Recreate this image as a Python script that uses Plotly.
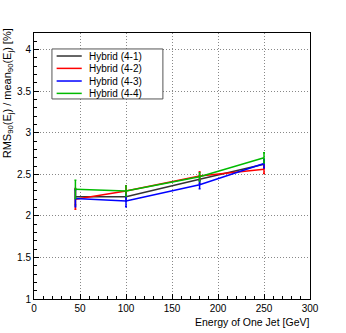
import plotly.graph_objects as go

# energies of one jet [GeV]
energy = [45, 100, 180, 250]

names = ["Hybrid (4-1)", "Hybrid (4-2)", "Hybrid (4-3)", "Hybrid (4-4)"]
colors = ["#333333", "#ff0000", "#0000ff", "#00bb00"]

# RMS90 / mean90 [%]
res_41 = [2.23, 2.23, 2.44, 2.62]
res_42 = [2.20, 2.30, 2.48, 2.56]
res_43 = [2.21, 2.18, 2.375, 2.63]
res_44 = [2.32, 2.30, 2.47, 2.70]

err_41 = [0.10, 0.05, 0.05, 0.05]
err_42 = [0.12, 0.06, 0.05, 0.05]
err_43 = [0.10, 0.07, 0.05, 0.05]
err_44 = [0.11, 0.06, 0.05, 0.06]

series = [res_41, res_42, res_43, res_44]
errors = [err_41, err_42, err_43, err_44]

fig = go.Figure()

for name, col, y, e in zip(names, colors, series, errors):
    fig.add_trace(go.Scatter(
        x=energy,
        y=y,
        name=name,
        mode='lines',
        line=dict(color=col, width=1.5),
        error_y=dict(type='data', array=e, color=col, thickness=1.5, width=1)
    ))

font = dict(family="Liberation Sans, Arial, sans-serif", size=10, color="black")

# hand-drawn legend box (ROOT style, compact rows)
shapes = [dict(type='rect', xref='paper', yref='paper',
               x0=0.065, x1=0.467, y0=0.752, y1=0.94,
               line=dict(color='#555555', width=1), fillcolor='white', layer='above')]
annotations = []
row_y = [0.9135, 0.867, 0.8195, 0.773]
for name, col, ry in zip(names, colors, row_y):
    shapes.append(dict(type='line', xref='paper', yref='paper',
                       x0=0.082, x1=0.173, y0=ry, y1=ry,
                       line=dict(color=col, width=1.5), layer='above'))
    annotations.append(dict(text=name, xref='paper', yref='paper',
                            x=0.191, y=ry, xanchor='left', yanchor='middle',
                            showarrow=False, font=font))

annotations += [
    dict(text="Energy of One Jet [GeV]", xref='paper', yref='paper',
         x=1.005, y=-0.057, xanchor='right', yanchor='top',
         showarrow=False, font=dict(family=font['family'], size=10.5, color='black')),
    dict(text="RMS<sub>90</sub>(E<sub>j</sub>) / mean<sub>90</sub>(E<sub>j</sub>) [%]",
         xref='paper', yref='paper', x=-0.062, y=1.025,
         xanchor='right', yanchor='top', textangle=-90,
         showarrow=False, font=dict(family=font['family'], size=11, color='black')),
]

fig.update_layout(
    width=346,
    height=333,
    margin=dict(l=34, r=36, t=33, b=34),
    paper_bgcolor='white',
    plot_bgcolor='white',
    font=font,
    showlegend=False,
    shapes=shapes,
    annotations=annotations,
    xaxis=dict(
        range=[0, 300], tickmode='linear', tick0=0, dtick=50,
        ticks='inside', ticklen=5, tickcolor='black',
        minor=dict(dtick=10, ticks='inside', ticklen=3, tickcolor='black'),
        showline=True, linecolor='black', linewidth=1, mirror=True,
        showgrid=True, gridcolor='#888888', griddash='1px,2px', gridwidth=1,
        zeroline=False, tickfont=font
    ),
    yaxis=dict(
        range=[1, 4.2], tickmode='linear', tick0=1, dtick=0.5,
        ticks='inside', ticklen=5, tickcolor='black',
        minor=dict(dtick=0.1, ticks='inside', ticklen=3, tickcolor='black'),
        showline=True, linecolor='black', linewidth=1, mirror=True,
        showgrid=True, gridcolor='#888888', griddash='1px,2px', gridwidth=1,
        zeroline=False, tickfont=font
    ),
)

fig.write_html("out.html", config={'displayModeBar': False},
               post_script="document.body.style.margin='0';")
